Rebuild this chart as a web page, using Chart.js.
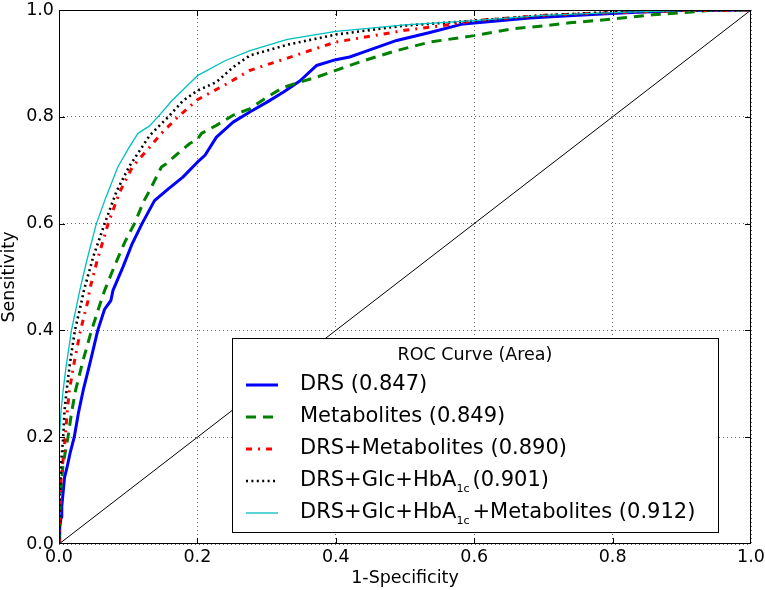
<!DOCTYPE html>
<html><head><meta charset="utf-8">
<script src="https://cdn.jsdelivr.net/npm/chart.js@4.4.0/dist/chart.umd.min.js"></script>
<style>html,body{margin:0;padding:0;background:#fff;}#wrap{position:relative;width:765px;height:590px;}</style>
</head><body><div id="wrap"><canvas id="c" width="765" height="590"></canvas></div>
<script>
// ---- data ----
const tickValues = [0, 0.2, 0.4, 0.6, 0.8, 1.0];
const xTitle = "1-Specificity";
const yTitle = "Sensitivity";
const legendTitle = "ROC Curve (Area)";
const seriesNames = ["DRS", "Metabolites", "DRS+Metabolites", "DRS+Glc+HbA_{1c}", "DRS+Glc+HbA_{1c}+Metabolites"];
const seriesArea = ["0.847", "0.849", "0.890", "0.901", "0.912"];

const drsX = [0,0.001,0.003,0.004,0.008,0.011,0.016,0.022,0.028,0.035,0.045,0.056,0.066,0.075,0.078,0.0925,0.105,0.12,0.138,0.158,0.179,0.2,0.211,0.2275,0.2516,0.2757,0.30,0.324,0.348,0.372,0.40,0.42,0.44,0.488,0.536,0.584,0.62,0.68,0.75,0.82,0.9,1];
const drsY = [0,0.03,0.05,0.07,0.125,0.14,0.17,0.2,0.245,0.288,0.34,0.4,0.44,0.456,0.475,0.519,0.56,0.6,0.643,0.665,0.687,0.715,0.728,0.762,0.79,0.809,0.827,0.846,0.867,0.896,0.907,0.912,0.921,0.943,0.958,0.974,0.978,0.985,0.99,0.995,0.999,1];

const metX = [0,0.001,0.0025,0.006,0.013,0.018,0.024,0.035,0.047,0.061,0.066,0.08,0.095,0.109,0.123,0.131,0.148,0.155,0.175,0.189,0.2,0.206,0.2275,0.2516,0.2757,0.30,0.324,0.348,0.372,0.4,0.44,0.488,0.536,0.6,0.656,0.70,0.738,0.8,0.858,0.9,0.93,0.95,1];
const metY = [0,0.05,0.1,0.15,0.2,0.245,0.288,0.345,0.4,0.456,0.475,0.52,0.565,0.6,0.643,0.662,0.706,0.712,0.735,0.75,0.758,0.769,0.784,0.803,0.815,0.836,0.855,0.865,0.874,0.887,0.905,0.924,0.94,0.952,0.965,0.97,0.976,0.983,0.991,0.995,0.998,1,1];

const drsMetX = [0,0.001,0.003,0.006,0.009,0.012,0.015,0.022,0.031,0.042,0.044,0.055,0.071,0.088,0.106,0.131,0.148,0.172,0.2,0.24,0.276,0.33,0.4,0.5,0.55,0.6,0.7,0.8,0.9,1];
const drsMetY = [0,0.06,0.12,0.16,0.2,0.25,0.288,0.34,0.4,0.456,0.475,0.53,0.6,0.66,0.706,0.743,0.769,0.8,0.832,0.86,0.887,0.91,0.94,0.962,0.97,0.98,0.99,0.995,0.999,1];

const drsGlcX = [0,0.001,0.003,0.006,0.008,0.011,0.016,0.023,0.033,0.036,0.05,0.066,0.083,0.101,0.131,0.158,0.179,0.2,0.2275,0.2516,0.276,0.33,0.4,0.5,0.6,0.7,0.8,0.9,1];
const drsGlcY = [0,0.08,0.15,0.2,0.25,0.288,0.34,0.4,0.456,0.475,0.54,0.6,0.66,0.706,0.765,0.8,0.83,0.849,0.865,0.893,0.915,0.935,0.954,0.971,0.98,0.99,0.996,0.999,1];

const allX = [0,0,0.001,0.003,0.006,0.01,0.018,0.027,0.03,0.04,0.054,0.068,0.085,0.1,0.114,0.131,0.143,0.163,0.2,0.24,0.276,0.33,0.4,0.5,0.6,0.7,0.8,0.9,1];
const allY = [0,0.1,0.2,0.25,0.288,0.33,0.4,0.456,0.475,0.53,0.6,0.65,0.706,0.74,0.769,0.783,0.8,0.83,0.877,0.905,0.924,0.945,0.96,0.972,0.98,0.99,0.995,0.999,1];

const diagX = [0, 1];
const diagY = [0, 1];

// ---- build ----
function pts(xs, ys) { return xs.map((x, i) => ({ x: x, y: ys[i] })); }
const FONT = "'DejaVu Sans', 'Liberation Sans', sans-serif";
Chart.defaults.font.family = FONT;
Chart.defaults.font.size = 17.5;
Chart.defaults.color = '#000';

const styles = [
  { color: '#0000ff', width: 3, dash: [] },
  { color: '#008000', width: 3, dash: [10, 7] },
  { color: '#ff0000', width: 3, dash: [6, 6, 2, 6] },
  { color: '#000000', width: 2.6, dash: [2, 3.4] },
  { color: '#00bfbf', width: 1.3, dash: [] }
];
const seriesData = [pts(drsX, drsY), pts(metX, metY), pts(drsMetX, drsMetY), pts(drsGlcX, drsGlcY), pts(allX, allY)];

const datasets = seriesData.map((d, i) => ({
  label: seriesNames[i] + ' (' + seriesArea[i] + ')',
  data: d, showLine: true, pointRadius: 0, borderColor: styles[i].color,
  borderWidth: styles[i].width, borderDash: styles[i].dash, fill: false, tension: 0,
  order: 5 - i, borderCapStyle: 'butt', borderJoinStyle: 'round'
}));
datasets.push({ label: 'diag', data: pts(diagX, diagY), showLine: true, pointRadius: 0,
  borderColor: '#000', borderWidth: 1, fill: false, order: 10 });

function drawLabel(ctx, text, x, y) {
  const parts = text.split(/(_\{[^}]*\})/);
  let cx = x; let afterSub = false;
  parts.forEach(p => {
    if (!p) return;
    if (p.startsWith('_{')) {
      const s = p.slice(2, -1);
      ctx.font = '11px ' + FONT;
      ctx.fillText(s, cx, y + 8);
      cx += ctx.measureText(s).width;
      afterSub = true;
    } else {
      let t = p;
      if (afterSub) { t = t.replace(/^ /, ''); cx += 3; }
      ctx.font = '21px ' + FONT;
      ctx.fillText(t, cx, y);
      cx += ctx.measureText(t).width;
      afterSub = false;
    }
  });
}

const legendPlugin = {
  id: 'rocLegend',
  afterDatasetsDraw(chart) {
    const ctx = chart.ctx, a = chart.chartArea;
    const R = a.right - 33, B = a.bottom - 12, L = R - 486, T = B - 194;
    ctx.save();
    ctx.fillStyle = '#fff';
    ctx.fillRect(L, T, R - L, B - T);
    ctx.strokeStyle = '#000'; ctx.lineWidth = 1; ctx.setLineDash([]);
    ctx.strokeRect(Math.round(L) + 0.5, Math.round(T) + 0.5, Math.round(R - L), Math.round(B - T));
    ctx.fillStyle = '#000';
    ctx.textBaseline = 'middle';
    ctx.textAlign = 'center';
    ctx.font = '17.5px ' + FONT;
    ctx.fillText(legendTitle, (L + R) / 2, T + 17);
    ctx.textAlign = 'left';
    seriesNames.forEach((n, i) => {
      const y = T + 47 + i * 32;
      const st = styles[i];
      ctx.beginPath();
      ctx.strokeStyle = st.color; ctx.lineWidth = st.width; ctx.setLineDash(st.dash);
      ctx.moveTo(L + 14, y); ctx.lineTo(L + 46, y); ctx.stroke();
      ctx.setLineDash([]);
      ctx.fillStyle = '#000';
      drawLabel(ctx, n + ' (' + seriesArea[i] + ')', L + 68, y);
    });
    ctx.restore();
  },
  afterDraw(chart) {
    const ctx = chart.ctx, a = chart.chartArea;
    const xs = chart.scales.x, ys = chart.scales.y;
    ctx.save();
    ctx.strokeStyle = '#000'; ctx.lineWidth = 1; ctx.setLineDash([]);
    ctx.strokeRect(Math.round(a.left) + 0.5, Math.round(a.top) + 0.5, Math.round(a.right - a.left) - 1, Math.round(a.bottom - a.top) - 1);
    ctx.beginPath();
    tickValues.slice(1, -1).forEach(v => {
      const px = Math.round(xs.getPixelForValue(v)) + 0.5;
      ctx.moveTo(px, a.bottom); ctx.lineTo(px, a.bottom - 6);
      ctx.moveTo(px, a.top); ctx.lineTo(px, a.top + 6);
      const py = Math.round(ys.getPixelForValue(v)) + 0.5;
      ctx.moveTo(a.left, py); ctx.lineTo(a.left + 6, py);
      ctx.moveTo(a.right, py); ctx.lineTo(a.right - 6, py);
    });
    ctx.stroke();
    ctx.restore();
  }
};

const gridStyle = { color: 'rgba(0,0,0,0.6)', lineWidth: 1, drawTicks: false };
new Chart(document.getElementById('c'), {
  type: 'scatter',
  data: { datasets: datasets },
  options: {
    responsive: false, animation: false, maintainAspectRatio: false,
    layout: { padding: { left: 0, right: 14, top: 10, bottom: 0 }, autoPadding: false },
    plugins: { legend: { display: false }, tooltip: { enabled: false } },
    scales: {
      x: {
        type: 'linear', min: 0, max: 1,
        afterBuildTicks: s => { s.ticks = tickValues.map(v => ({ value: v })); },
        afterFit: s => { s.height = 46; s.paddingLeft = 0; s.paddingRight = 0; s.paddingTop = 0; s.paddingBottom = 0; },
        ticks: { callback: v => v.toFixed(1), padding: 3, maxRotation: 0, font: { size: 17.5 }, color: '#000' },
        grid: gridStyle,
        border: { display: false, dash: [1, 3] },
        title: { display: true, text: xTitle, font: { size: 17.5 }, color: '#000', padding: { top: 0, bottom: 1.5 } }
      },
      y: {
        type: 'linear', min: 0, max: 1,
        afterBuildTicks: s => { s.ticks = tickValues.map(v => ({ value: v })); },
        afterFit: s => { s.width = 59; s.paddingLeft = 0; s.paddingRight = 0; s.paddingTop = 0; s.paddingBottom = 0; },
        ticks: { callback: v => v.toFixed(1), padding: 5, font: { size: 17.5 }, color: '#000' },
        grid: gridStyle,
        border: { display: false, dash: [1, 3] },
        title: { display: true, text: yTitle, font: { size: 17.5, lineHeight: 1.1 }, color: '#000', padding: { top: 0, bottom: 0 } }
      }
    }
  },
  plugins: [legendPlugin]
});
</script></body></html>
